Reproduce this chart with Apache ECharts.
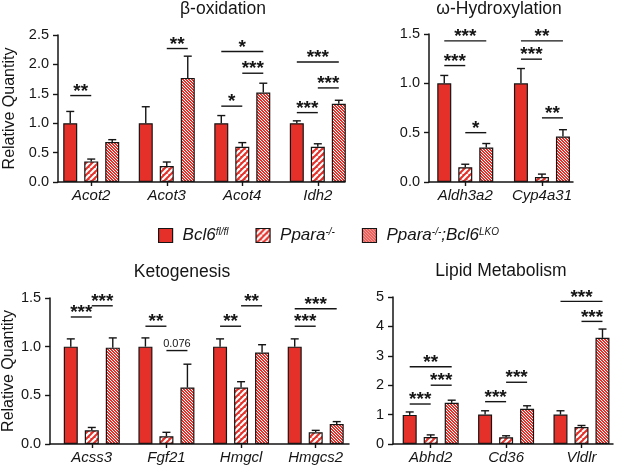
<!DOCTYPE html>
<html>
<head>
<meta charset="utf-8">
<title>Relative Quantity</title>
<script src="https://cdn.jsdelivr.net/npm/echarts@6/dist/echarts.min.js"></script>
<style>
html, body { margin: 0; padding: 0; background: #fff; }
#chart { width: 617px; height: 465px; }
</style>
</head>
<body>
<div id="chart"></div>
<script>
// groups
var groups = ['Bcl6fl/fl', 'Ppara-/-', 'Ppara-/-;Bcl6LKO'];

// β-oxidation
var betaGenes = ['Acot2', 'Acot3', 'Acot4', 'Idh2'];
var betaWT = [1.0, 1.0, 1.0, 1.0];
var betaKO = [0.35, 0.27, 0.60, 0.60];
var betaDKO = [0.68, 1.77, 1.52, 1.33];
var betaWTTop = [1.20, 1.28, 1.13, 1.04];
var betaKOTop = [0.39, 0.34, 0.67, 0.65];
var betaDKOTop = [0.72, 2.14, 1.68, 1.39];
// [gene, from, to, level, label]
var betaSig = [
  [0, 0, 1, 1.47, '**'],
  [1, 1, 2, 2.27, '**'],
  [2, 0, 2, 2.22, '*'], [2, 1, 2, 1.85, '***'], [2, 0, 1, 1.29, '*'],
  [3, 0, 2, 2.04, '***'], [3, 1, 2, 1.60, '***'], [3, 0, 1, 1.18, '***']
];

// ω-Hydroxylation
var omegaGenes = ['Aldh3a2', 'Cyp4a31'];
var omegaWT = [1.0, 1.0];
var omegaKO = [0.15, 0.05];
var omegaDKO = [0.35, 0.46];
var omegaWTTop = [1.08, 1.15];
var omegaKOTop = [0.18, 0.08];
var omegaDKOTop = [0.39, 0.53];
var omegaSig = [
  [0, 0, 2, 1.43, '***'], [0, 0, 1, 1.18, '***'], [0, 1, 2, 0.50, '*'],
  [1, 0, 2, 1.43, '**'], [1, 0, 1, 1.245, '***'], [1, 1, 2, 0.65, '**']
];

// Ketogenesis
var ketoGenes = ['Acss3', 'Fgf21', 'Hmgcl', 'Hmgcs2'];
var ketoWT = [1.0, 1.0, 1.0, 1.0];
var ketoKO = [0.14, 0.08, 0.58, 0.12];
var ketoDKO = [0.99, 0.58, 0.94, 0.205];
var ketoWTTop = [1.08, 1.09, 1.08, 1.08];
var ketoKOTop = [0.17, 0.12, 0.64, 0.14];
var ketoDKOTop = [1.09, 0.82, 1.02, 0.23];
var ketoSig = [
  [0, 0, 1, 1.305, '***'], [0, 1, 2, 1.42, '***'],
  [1, 0, 1, 1.21, '**'], [1, 1, 2, 0.96, '0.076'],
  [2, 0, 1, 1.21, '**'], [2, 1, 2, 1.42, '**'],
  [3, 0, 2, 1.39, '***'], [3, 0, 1, 1.21, '***']
];

// Lipid Metabolism
var lipidGenes = ['Abhd2', 'Cd36', 'Vldlr'];
var lipidWT = [0.99, 1.0, 1.0];
var lipidKO = [0.24, 0.23, 0.58];
var lipidDKO = [1.40, 1.20, 3.61];
var lipidWTTop = [1.09, 1.13, 1.13];
var lipidKOTop = [0.31, 0.28, 0.63];
var lipidDKOTop = [1.49, 1.30, 3.91];
var lipidSig = [
  [0, 0, 2, 2.63, '**'], [0, 1, 2, 2.00, '***'], [0, 0, 1, 1.36, '***'],
  [1, 0, 1, 1.44, '***'], [1, 1, 2, 2.10, '***'],
  [2, 0, 2, 4.85, '***'], [2, 1, 2, 4.17, '***']
];

var RED = '#e5302a';
var INK = '#151515';
var FONT = '"Liberation Sans", Arial, sans-serif';
var BAR_W = 14;
var STEP = 21;   // bar width + gap

function stripes(dir, size, w) {
  var c = document.createElement('canvas');
  c.width = size; c.height = size;
  var g = c.getContext('2d');
  g.fillStyle = RED;
  g.fillRect(0, 0, size, size);
  g.strokeStyle = '#fff';
  g.lineWidth = w;
  for (var k = -1; k <= 1; k++) {
    g.beginPath();
    if (dir > 0) { g.moveTo(k * size, size); g.lineTo(k * size + size, 0); }
    else { g.moveTo(k * size, 0); g.lineTo(k * size + size, size); }
    g.stroke();
  }
  return { image: c, repeat: 'repeat' };
}
var fills = [RED, stripes(1, 6, 2.2), stripes(-1, 3, 1)];

var panels = [
  { title: 'β-oxidation', tx: 223, ty: 0, genes: betaGenes, vals: [betaWT, betaKO, betaDKO],
    tops: [betaWTTop, betaKOTop, betaDKOTop], sig: betaSig,
    grid: { left: 58, top: 35, width: 287, height: 147 }, xmin: -0.44, xmax: 3.36,
    ymax: 2.5, step: 0.5, yname: 'Relative Quantity', gap: 40 },
  { title: 'ω-Hydroxylation', tx: 499, ty: 0, genes: omegaGenes, vals: [omegaWT, omegaKO, omegaDKO],
    tops: [omegaWTTop, omegaKOTop, omegaDKOTop], sig: omegaSig,
    grid: { left: 429, top: 34, width: 144, height: 148 }, xmin: -0.473, xmax: 1.405,
    ymax: 1.5, step: 0.5, yname: '', gap: 0 },
  { title: 'Ketogenesis', tx: 182, ty: 263, genes: ketoGenes, vals: [ketoWT, ketoKO, ketoDKO],
    tops: [ketoWTTop, ketoKOTop, ketoDKOTop], sig: ketoSig,
    grid: { left: 48, top: 298, width: 301, height: 146 }, xmin: -0.559, xmax: 3.446,
    ymax: 1.5, step: 0.5, yname: 'Relative Quantity', gap: 31 },
  { title: 'Lipid Metabolism', tx: 501, ty: 262, genes: lipidGenes, vals: [lipidWT, lipidKO, lipidDKO],
    tops: [lipidWTTop, lipidKOTop, lipidDKOTop], sig: lipidSig,
    grid: { left: 393, top: 297, width: 220, height: 147 }, xmin: -0.5, xmax: 2.418,
    ymax: 5, step: 1, yname: '', gap: 0 }
];

function renderErr(params, api) {
  var base = api.coord([api.value(0), api.value(2)]);
  var top = api.coord([api.value(0), api.value(3)]);
  var x = base[0] + (api.value(1) - 1) * STEP;
  var st = { stroke: INK, lineWidth: 1.4 };
  return { type: 'group', children: [
    { type: 'line', shape: { x1: x, y1: base[1], x2: x, y2: top[1] }, style: st },
    { type: 'line', shape: { x1: x - 4, y1: top[1], x2: x + 4, y2: top[1] }, style: st }
  ] };
}

function renderSig(sig) {
  return function (params, api) {
    var s = sig[params.dataIndex];
    var p = api.coord([s[0], s[3]]);
    var x1 = p[0] + (s[1] - 1) * STEP, x2 = p[0] + (s[2] - 1) * STEP;
    var star = s[4].charAt(0) === '*';
    return { type: 'group', children: [
      { type: 'line', shape: { x1: x1, y1: p[1], x2: x2, y2: p[1] }, style: { stroke: INK, lineWidth: 1.4 } },
      { type: 'text', x: (x1 + x2) / 2, y: star ? p[1] - 4 : p[1] - 7,
        style: { text: s[4], fill: INK, align: 'center', verticalAlign: 'middle',
          font: star ? 'bold 19px ' + FONT : '11px ' + FONT } }
    ] };
  };
}

var option = {
  animation: false,
  backgroundColor: '#fff',
  textStyle: { fontFamily: FONT },
  title: [], grid: [], xAxis: [], yAxis: [], series: [],
  legend: {
    data: groups, left: 153, top: 222, itemWidth: 14, itemHeight: 14, itemGap: 27,
    icon: 'rect', selectedMode: false,
    itemStyle: { borderColor: INK, borderWidth: 1.2 },
    formatter: function (n) {
      if (n === groups[0]) return '{f|Bcl6}{s|fl/fl}';
      if (n === groups[1]) return '{f|Ppara}{s|-/-}';
      return '{f|Ppara}{s|-/-}{i|;Bcl6}{s|LKO}';
    },
    textStyle: {
      rich: {
        f: { fontSize: 17, fontStyle: 'italic', color: INK, fontFamily: FONT, padding: [0, 0, 0, 5] },
        i: { fontSize: 17, fontStyle: 'italic', color: INK, fontFamily: FONT },
        s: { fontSize: 10, fontStyle: 'italic', color: INK, fontFamily: FONT, verticalAlign: 'top' }
      }
    }
  }
};

panels.forEach(function (p, n) {
  var ticks = p.genes.map(function (g, i) { return i; });
  option.title.push({
    text: p.title, left: p.tx, top: p.ty, textAlign: 'center', padding: 0,
    textStyle: { fontSize: 17.5, fontWeight: 'normal', color: INK, fontFamily: FONT }
  });
  option.grid.push(p.grid);
  option.xAxis.push({
    type: 'value', gridIndex: n, min: p.xmin, max: p.xmax,
    splitLine: { show: false },
    axisLine: { onZero: false, lineStyle: { color: INK, width: 1.5 } },
    axisTick: { customValues: ticks, length: 4, lineStyle: { color: INK, width: 1.4 } },
    axisLabel: { customValues: ticks, margin: 6, fontSize: 15, fontStyle: 'italic', color: INK,
      formatter: function (v) { return p.genes[Math.round(v)]; } }
  });
  option.yAxis.push({
    type: 'value', gridIndex: n, min: 0, max: p.ymax, interval: p.step,
    name: p.yname, nameLocation: 'middle', nameGap: p.gap,
    nameTextStyle: { fontSize: 16, color: INK },
    splitLine: { show: false },
    axisLine: { show: true, onZero: false, lineStyle: { color: INK, width: 1.5 } },
    axisTick: { show: true, length: 5, lineStyle: { color: INK, width: 1.4 } },
    axisLabel: { margin: 9, fontSize: 14.5, color: INK,
      formatter: function (v) { return p.step < 1 ? v.toFixed(1) : String(v); } }
  });
  p.vals.forEach(function (vals, k) {
    option.series.push({
      type: 'bar', name: groups[k], xAxisIndex: n, yAxisIndex: n,
      barWidth: BAR_W, barGap: '50%',
      itemStyle: { color: fills[k], borderColor: INK, borderWidth: 1.2 },
      data: vals.map(function (v, i) { return [i, v]; })
    });
  });
  var errData = [];
  p.vals.forEach(function (vals, k) {
    vals.forEach(function (v, i) { errData.push([i, k, v, p.tops[k][i]]); });
  });
  option.series.push({
    type: 'custom', xAxisIndex: n, yAxisIndex: n, renderItem: renderErr,
    encode: { x: 0, y: [2, 3] }, data: errData, z: 3
  });
  option.series.push({
    type: 'custom', xAxisIndex: n, yAxisIndex: n, renderItem: renderSig(p.sig),
    encode: { x: 0, y: 1 }, data: p.sig.map(function (s) { return [s[0], s[3]]; }), z: 3
  });
});

var chart = echarts.init(document.getElementById('chart'));
chart.setOption(option);
</script>
</body>
</html>
